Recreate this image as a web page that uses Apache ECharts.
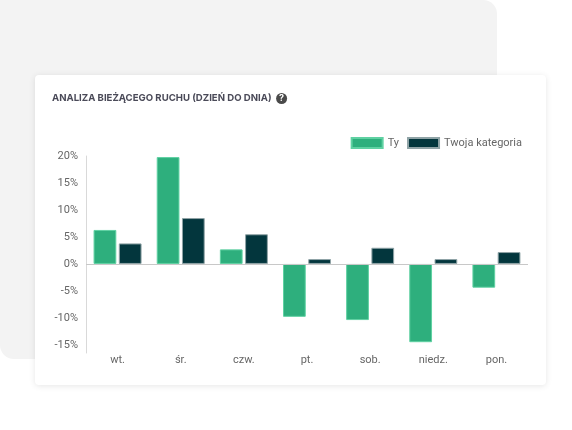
<!DOCTYPE html>
<html>
<head>
<meta charset="utf-8">
<script src="https://cdn.jsdelivr.net/npm/echarts@6/dist/echarts.min.js"></script>
<style>
  html, body { margin: 0; padding: 0; background: #fff; }
  #bg { position: absolute; left: 0; top: 0; width: 497px; height: 359px; background: #f3f3f3; border-radius: 0 14px 14px 14px; }
  #card { position: absolute; left: 35px; top: 75px; width: 511px; height: 310px; background: #fff; border-radius: 4px; box-shadow: 0 1px 6px rgba(0,0,0,0.10); }
  #chart { position: absolute; left: 0; top: 0; width: 572px; height: 430px; }
</style>
</head>
<body>
<div id="bg"></div>
<div id="card"></div>
<div id="chart"></div>
<script>
var days = ['wt.', 'śr.', 'czw.', 'pt.', 'sob.', 'niedz.', 'pon.'];
var ty = [6.3, 19.8, 2.7, -9.8, -10.4, -14.5, -4.4];
var kategoria = [3.8, 8.5, 5.5, 0.9, 3.0, 0.9, 2.2];
var yLabels = [-15, -10, -5, 0, 5, 10, 15, 20];
var yMin = -16.5; // axis line runs a little below the last label
var yMax = 20;

var labelFont = 'Roboto';

var chart = echarts.init(document.getElementById('chart'));

var option = {
  animation: false,
  title: {
    text: 'ANALIZA BIEŻĄCEGO RUCHU (DZIEŃ DO DNIA)  {q|?}',
    left: 52,
    top: 93,
    padding: 0,
    textStyle: {
      fontFamily: 'Inter',
      fontSize: 9.6,
      fontWeight: 'bold',
      color: '#4a4a58',
      rich: {
        q: {
          backgroundColor: '#4a4a4a',
          color: '#fff',
          width: 11,
          height: 11,
          lineHeight: 11,
          borderRadius: 6,
          align: 'center',
          fontSize: 9,
          fontWeight: 'bold',
          fontFamily: 'Inter'
        }
      }
    }
  },
  legend: {
    right: 50,
    top: 137,
    padding: 0,
    itemWidth: 31,
    itemHeight: 10,
    itemGap: 8,
    icon: 'rect',
    textStyle: { fontFamily: labelFont, fontSize: 11, color: '#666' },
    data: ['Ty', 'Twoja kategoria']
  },
  grid: { left: 86, right: 44, top: 156, bottom: 77 },
  xAxis: {
    type: 'category',
    data: days,
    axisLine: { show: false, onZero: false },
    axisTick: { show: false },
    axisLabel: { margin: 2, fontFamily: labelFont, fontSize: 11, color: '#666' }
  },
  yAxis: {
    type: 'value',
    min: yMin,
    max: yMax,
    axisLine: { show: true, lineStyle: { color: '#d9d9d9' } },
    axisTick: { show: false },
    splitLine: { show: false },
    axisLabel: {
      customValues: yLabels,
      margin: 8,
      formatter: '{value}%',
      fontFamily: labelFont,
      fontSize: 11,
      color: '#666'
    }
  },
  series: [
    {
      name: 'Ty',
      type: 'bar',
      data: ty,
      barCategoryGap: '24%',
      barGap: '11%',
      itemStyle: { color: '#2eaf7d', borderColor: '#5fd1a2', borderWidth: 1 },
      markLine: {
        silent: true,
        symbol: 'none',
        label: { show: false },
        lineStyle: { color: '#c8c8c8', type: 'solid', width: 1 },
        data: [{ yAxis: 0 }]
      }
    },
    {
      name: 'Twoja kategoria',
      type: 'bar',
      data: kategoria,
      barCategoryGap: '24%',
      barGap: '11%',
      itemStyle: { color: '#03363d', borderColor: '#8fa3a6', borderWidth: 1 }
    }
  ]
};

chart.setOption(option);
</script>
</body>
</html>
